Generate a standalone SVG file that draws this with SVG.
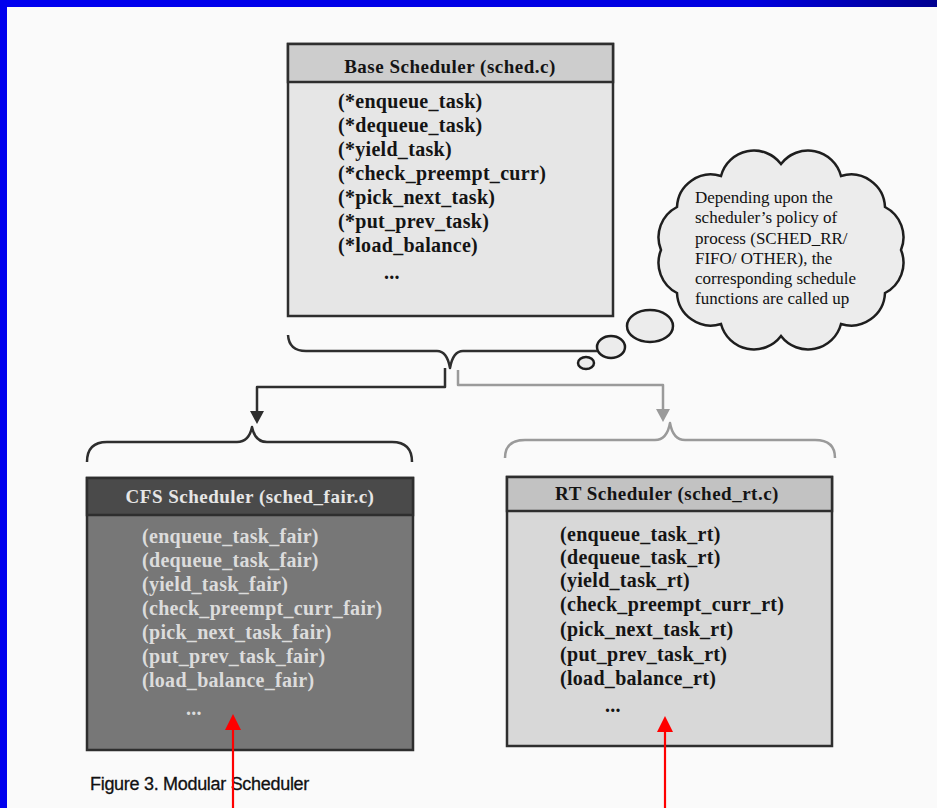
<svg xmlns="http://www.w3.org/2000/svg" width="937" height="808" viewBox="0 0 937 808">
<defs>
<linearGradient id="topbar" x1="0" y1="0" x2="1" y2="0">
<stop offset="0" stop-color="#0000f0"/><stop offset="0.8" stop-color="#0000e0"/><stop offset="1" stop-color="#000090"/>
</linearGradient>
<style>
.box{stroke:#2e2e2e;stroke-width:2.5}
.t{font-family:"Liberation Serif","Times New Roman",serif;font-weight:bold;font-size:20px;letter-spacing:0.3px}
.title{font-family:"Liberation Serif","Times New Roman",serif;font-weight:bold;font-size:19px;letter-spacing:0.5px;text-anchor:middle}
.dark{fill:#141414}
.light{fill:#dcdcdc}
.note{font-family:"Liberation Serif","Times New Roman",serif;font-size:17px;fill:#111}
.br{fill:none;stroke-width:2.5;stroke-linejoin:round}
.red{stroke:#ff0000;stroke-width:2.2;fill:none}
.bub{fill:#ececec;stroke:#1e1e1e;stroke-width:2.5}
</style>
</defs>
<rect x="0" y="0" width="937" height="808" fill="#fafafa"/>
<rect x="0" y="0" width="937" height="7" fill="url(#topbar)"/>
<rect x="0" y="0" width="7" height="808" fill="#0000ee"/>

<g id="base">
<rect class="box" x="288" y="44" width="325" height="272" fill="#e6e6e6"/>
<rect class="box" x="288" y="44" width="325" height="38" fill="#cdcdcd"/>
<text class="title dark" x="450" y="73">Base Scheduler (sched.c)</text>
<text class="t dark" x="338" y="108">(*enqueue_task)</text>
<text class="t dark" x="338" y="132">(*dequeue_task)</text>
<text class="t dark" x="338" y="156">(*yield_task)</text>
<text class="t dark" x="338" y="180">(*check_preempt_curr)</text>
<text class="t dark" x="338" y="204">(*pick_next_task)</text>
<text class="t dark" x="338" y="228">(*put_prev_task)</text>
<text class="t dark" x="338" y="252">(*load_balance)</text>
<text class="t dark" x="384" y="279">...</text>
</g>

<g id="note">
<path d="M901,250 A34,34 0 0 1 885,293 A34,34 0 0 1 841,324 A34,34 0 0 1 781,336 A34,34 0 0 1 721,324 A34,34 0 0 1 677,293 A34,34 0 0 1 661,250 A34,34 0 0 1 677,207 A34,34 0 0 1 721,176 A34,34 0 0 1 781,164 A34,34 0 0 1 841,176 A34,34 0 0 1 885,207 A34,34 0 0 1 901,250 Z" fill="#ececec" stroke="#1e1e1e" stroke-width="2.5"/>
<text class="note" x="695" y="203">Depending upon the</text>
<text class="note" x="695" y="223">scheduler’s policy of</text>
<text class="note" x="695" y="244">process (SCHED_RR/</text>
<text class="note" x="695" y="264">FIFO/ OTHER), the</text>
<text class="note" x="695" y="284">corresponding schedule</text>
<text class="note" x="695" y="304">functions are called up</text>
<ellipse class="bub" cx="650" cy="326" rx="23" ry="16"/>
<ellipse class="bub" cx="611" cy="347" rx="14" ry="11"/>
<ellipse class="bub" cx="586" cy="363" rx="8" ry="6"/>
</g>

<g id="cfs">
<rect class="box" x="87" y="478" width="326" height="272" fill="#777777"/>
<rect class="box" x="87" y="478" width="326" height="37" fill="#4a4a4a"/>
<text class="title" x="250" y="503" fill="#e6e6e6">CFS Scheduler (sched_fair.c)</text>
<text class="t light" x="142" y="543">(enqueue_task_fair)</text>
<text class="t light" x="142" y="567">(dequeue_task_fair)</text>
<text class="t light" x="142" y="591">(yield_task_fair)</text>
<text class="t light" x="142" y="615">(check_preempt_curr_fair)</text>
<text class="t light" x="142" y="639">(pick_next_task_fair)</text>
<text class="t light" x="142" y="663">(put_prev_task_fair)</text>
<text class="t light" x="142" y="687">(load_balance_fair)</text>
<text class="t light" x="186" y="715">...</text>
</g>

<g id="rt">
<rect class="box" x="507" y="477" width="325" height="269" fill="#d8d8d8"/>
<rect class="box" x="507" y="477" width="325" height="34" fill="#c2c2c2"/>
<text class="title dark" x="667" y="500">RT Scheduler (sched_rt.c)</text>
<text class="t dark" x="560" y="541">(enqueue_task_rt)</text>
<text class="t dark" x="560" y="564">(dequeue_task_rt)</text>
<text class="t dark" x="560" y="587">(yield_task_rt)</text>
<text class="t dark" x="560" y="611">(check_preempt_curr_rt)</text>
<text class="t dark" x="560" y="636">(pick_next_task_rt)</text>
<text class="t dark" x="560" y="661">(put_prev_task_rt)</text>
<text class="t dark" x="560" y="685">(load_balance_rt)</text>
<text class="t dark" x="605" y="712">...</text>
</g>

<g id="caption">
<text x="90" y="790" font-family="'Liberation Sans', Arial, sans-serif" font-size="18" fill="#111" letter-spacing="-0.3" stroke="#111" stroke-width="0.3">Figure 3. Modular Scheduler</text>
</g>

<g id="connectors">
<path class="br" stroke="#2e2e2e" d="M288,335 Q289,351 306,351 L437,351 Q447,351 450,368 Q453,351 463,351 L597,351"/>
<path class="br" stroke="#2e2e2e" d="M445,368 L445,387 L257,387 L257,413"/>
<polygon points="250,411 264,411 257,424" fill="#2e2e2e"/>
<path class="br" stroke="#9a9a9a" d="M458,370 L458,385 L663,385 L663,411"/>
<polygon points="656,409 670,409 663,422" fill="#9a9a9a"/>
<path class="br" stroke="#2e2e2e" d="M87,462 Q87,442 107,442 L237,442 Q249,442 252,427 Q255,442 267,442 L392,442 Q412,442 412,462"/>
<path class="br" stroke="#9a9a9a" d="M505,458 Q505,440 525,440 L655,440 Q667,440 670,423 Q673,440 685,440 L815,440 Q835,440 835,458"/>
<path class="red" d="M233,808 L233,728"/>
<polygon points="225,730 241,730 233,714" fill="#ff0000"/>
<path class="red" d="M665,808 L665,730"/>
<polygon points="657,732 673,732 665,716" fill="#ff0000"/>
</g>
</svg>
